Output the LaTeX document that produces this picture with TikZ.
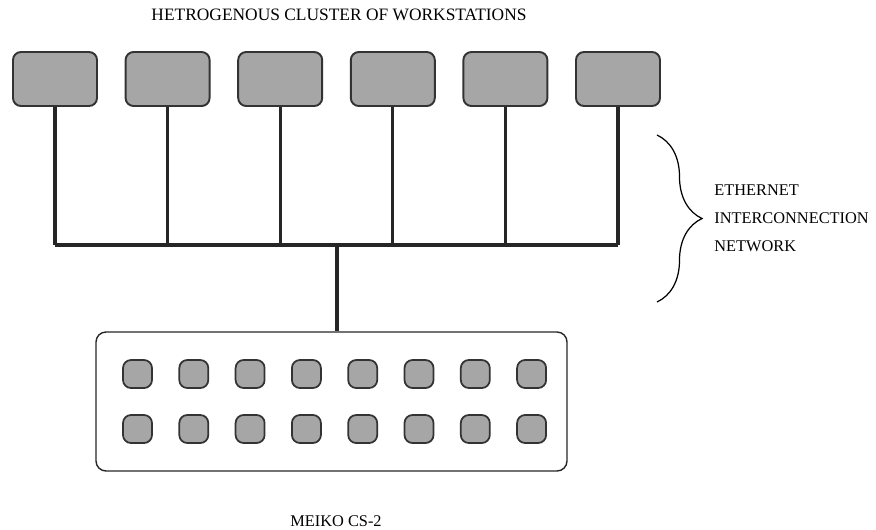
\documentclass[tikz,border=0pt]{standalone}
\usepackage{fontspec}
\setmainfont{Liberation Serif}
\usetikzlibrary{positioning}
\usetikzlibrary{calc}
\usetikzlibrary{decorations.pathreplacing}

\begin{document}
\begin{tikzpicture}[
    ws/.style={draw=black!80,line width=1.1pt,fill=black!35,rounded corners=0.16cm,minimum width=1.68cm,minimum height=1.08cm},
    pe/.style={draw=black!80,line width=1pt,fill=black!35,rounded corners=0.16cm,minimum width=0.58cm,minimum height=0.56cm},
    wire/.style={line width=1.8pt,black!85},
    lbl/.style={font=\fontsize{9.3}{16}\selectfont}]
            \useasboundingbox (0,0) rectangle (17.52,-10.58);
            \node[lbl,font=\fontsize{9.9}{12}\selectfont] (title) at (6.78,-0.3) {HETROGENOUS CLUSTER OF WORKSTATIONS};
            % workstations and the ethernet bus
            \foreach \i in {0,...,5}
                \node[ws] (W\i) at (1.1+2.252*\i,-1.58) {};
            \coordinate (B0) at (W0 |- 0,-4.9);
            \coordinate (B5) at (W5 |- 0,-4.9);
            \foreach \i in {0,...,5}
                \draw[wire] (W\i.south) -- (W\i |- B0);
            \draw[wire] (B0) -- (B5);
            % the meiko
            \node[draw=black!85,line width=0.8pt,rounded corners=0.2cm,minimum width=9.42cm,minimum height=2.78cm] (meiko) at (6.63,-8.03) {};
            \coordinate (H) at (6.74,-4.9);
            \draw[wire] (H) -- (H |- meiko.north);
            \foreach \i in {0,...,7} {
                \node[pe] (P\i) at (2.75+1.126*\i,-7.48) {};
                \node[pe] (Q\i) at (2.75+1.126*\i,-8.58) {};
            }
            \node[lbl] (name) at (6.72,-10.42) {MEIKO CS-2};
            % brace
            \draw[line width=0.7pt,decorate,decoration={brace,amplitude=0.9cm}] (13.14,-2.7) coordinate (T) -- (13.14,-6.04) coordinate (U);
            \node[lbl,anchor=west,align=left,inner sep=0pt] (net) at (14.28,-4.36) {ETHERNET\\INTERCONNECTION\\NETWORK};
        \end{tikzpicture}
\end{document}
